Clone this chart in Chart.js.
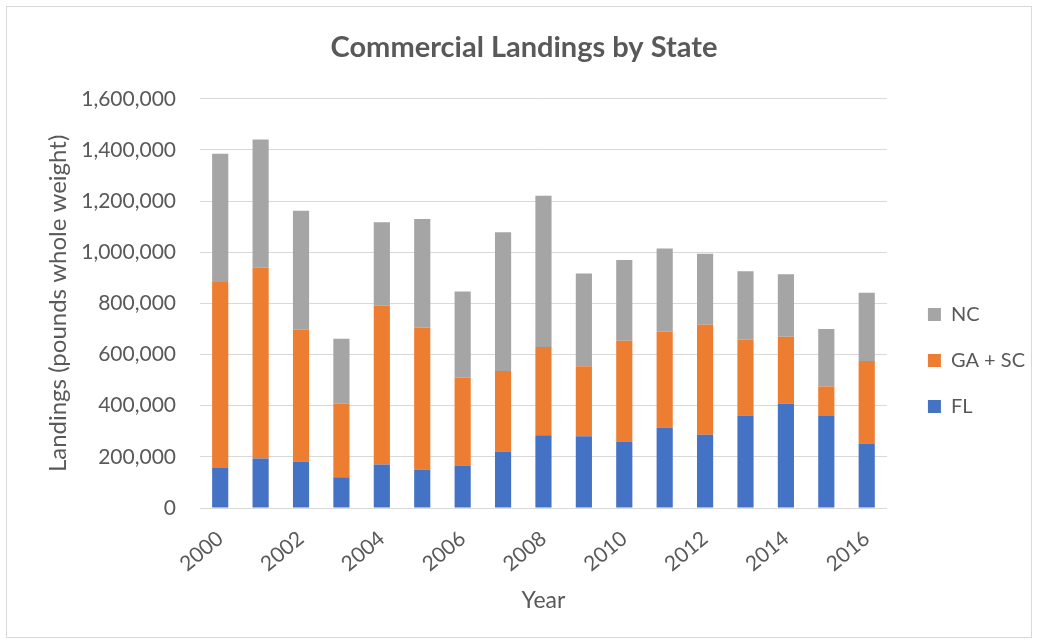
<!DOCTYPE html>
<html>
<head>
<meta charset="utf-8">
<title>Commercial Landings by State</title>
<script src="https://cdn.jsdelivr.net/npm/chart.js@4"></script>
<style>
  html, body { margin: 0; padding: 0; background: #fff; }
  #wrap {
    position: absolute;
    left: 6px;
    top: 6px;
    width: 1024px;
    height: 630px;
    border: 1px solid #d9d9d9;
  }
</style>
</head>
<body>
<div id="wrap"><canvas id="landings"></canvas></div>
<script>
const years = ["2000", "2001", "2002", "2003", "2004", "2005", "2006", "2007", "2008",
  "2009", "2010", "2011", "2012", "2013", "2014", "2015", "2016"];

// pounds whole weight, stacked FL -> GA + SC -> NC
const flLandings = [156000, 194000, 181000, 120000, 170000, 150000, 166000, 221000, 284000,
  281000, 260000, 315000, 286000, 362000, 408000, 360000, 252000];
const gaScLandings = [728000, 745000, 516000, 288000, 621000, 556000, 344000, 315000, 346000,
  273000, 394000, 374000, 431000, 296000, 262000, 115000, 323000];
const ncLandings = [501000, 502000, 465000, 254000, 326000, 424000, 337000, 542000, 591000,
  363000, 316000, 326000, 277000, 268000, 244000, 225000, 267000];

const textColor = "#595959";
const gridColor = "#d9d9d9";
const fontFamily = "Lato, 'Open Sans', sans-serif";

// nudge the legend block away from the plot and down a bit
const legendOffset = {
  id: "legendOffset",
  afterLayout: function (chart) {
    var lg = chart.legend;
    if (!lg) return;
    lg.left += 15;
    lg.right += 15;
    lg.top += 38;
    lg.bottom += 38;
  },
};

var ctx = document.getElementById("landings").getContext("2d");
var landingsChart = new Chart(ctx, {
  type: "bar",
  data: {
    labels: years,
    datasets: [
      { label: "FL", data: flLandings, backgroundColor: "#4472c4" },
      { label: "GA + SC", data: gaScLandings, backgroundColor: "#ed7d31" },
      { label: "NC", data: ncLandings, backgroundColor: "#a5a5a5" },
    ],
  },
  plugins: [legendOffset],
  options: {
    responsive: true,
    maintainAspectRatio: false,
    animation: false,
    datasets: {
      bar: { categoryPercentage: 0.8, barPercentage: 0.5 },
    },
    layout: {
      padding: { top: 16, left: 21, right: 11, bottom: 15 },
    },
    plugins: {
      title: {
        display: true,
        text: "Commercial Landings by State",
        color: textColor,
        font: { family: fontFamily, size: 29, weight: "bold" },
        padding: { top: 7, bottom: 34 },
      },
      legend: {
        position: "right",
        reverse: true,
        labels: {
          color: textColor,
          font: { family: fontFamily, size: 20 },
          boxWidth: 13,
          boxHeight: 13,
          padding: 26,
        },
      },
      tooltip: { enabled: false },
    },
    scales: {
      x: {
        stacked: true,
        // rotated labels + title band below the plot
        afterFit: function (scale) {
          scale.height = 114;
        },
        grid: { display: false, drawTicks: false },
        border: { display: true, color: gridColor, width: 1 },
        ticks: {
          autoSkip: false,
          minRotation: 40,
          maxRotation: 40,
          padding: 18,
          color: textColor,
          font: { family: fontFamily, size: 21 },
          callback: function (value, index) {
            // every second year is labelled
            return index % 2 === 0 ? years[index] : "";
          },
        },
        title: {
          display: true,
          text: "Year",
          color: textColor,
          font: { family: fontFamily, size: 23 },
          padding: { top: 0, bottom: 8 },
        },
      },
      y: {
        stacked: true,
        min: 0,
        max: 1600000,
        // fixed width for the title + tick label column
        afterFit: function (scale) {
          scale.width = 172;
        },
        grid: { color: gridColor, lineWidth: 1, drawTicks: false },
        border: { display: false },
        ticks: {
          stepSize: 200000,
          padding: 24,
          color: textColor,
          font: { family: fontFamily, size: 21 },
          callback: function (value) {
            return value.toLocaleString("en-US");
          },
        },
        title: {
          display: true,
          text: "Landings (pounds whole weight)",
          color: textColor,
          font: { family: fontFamily, size: 24 },
          padding: { top: 16, bottom: 8 },
        },
      },
    },
  },
});
</script>
</body>
</html>
